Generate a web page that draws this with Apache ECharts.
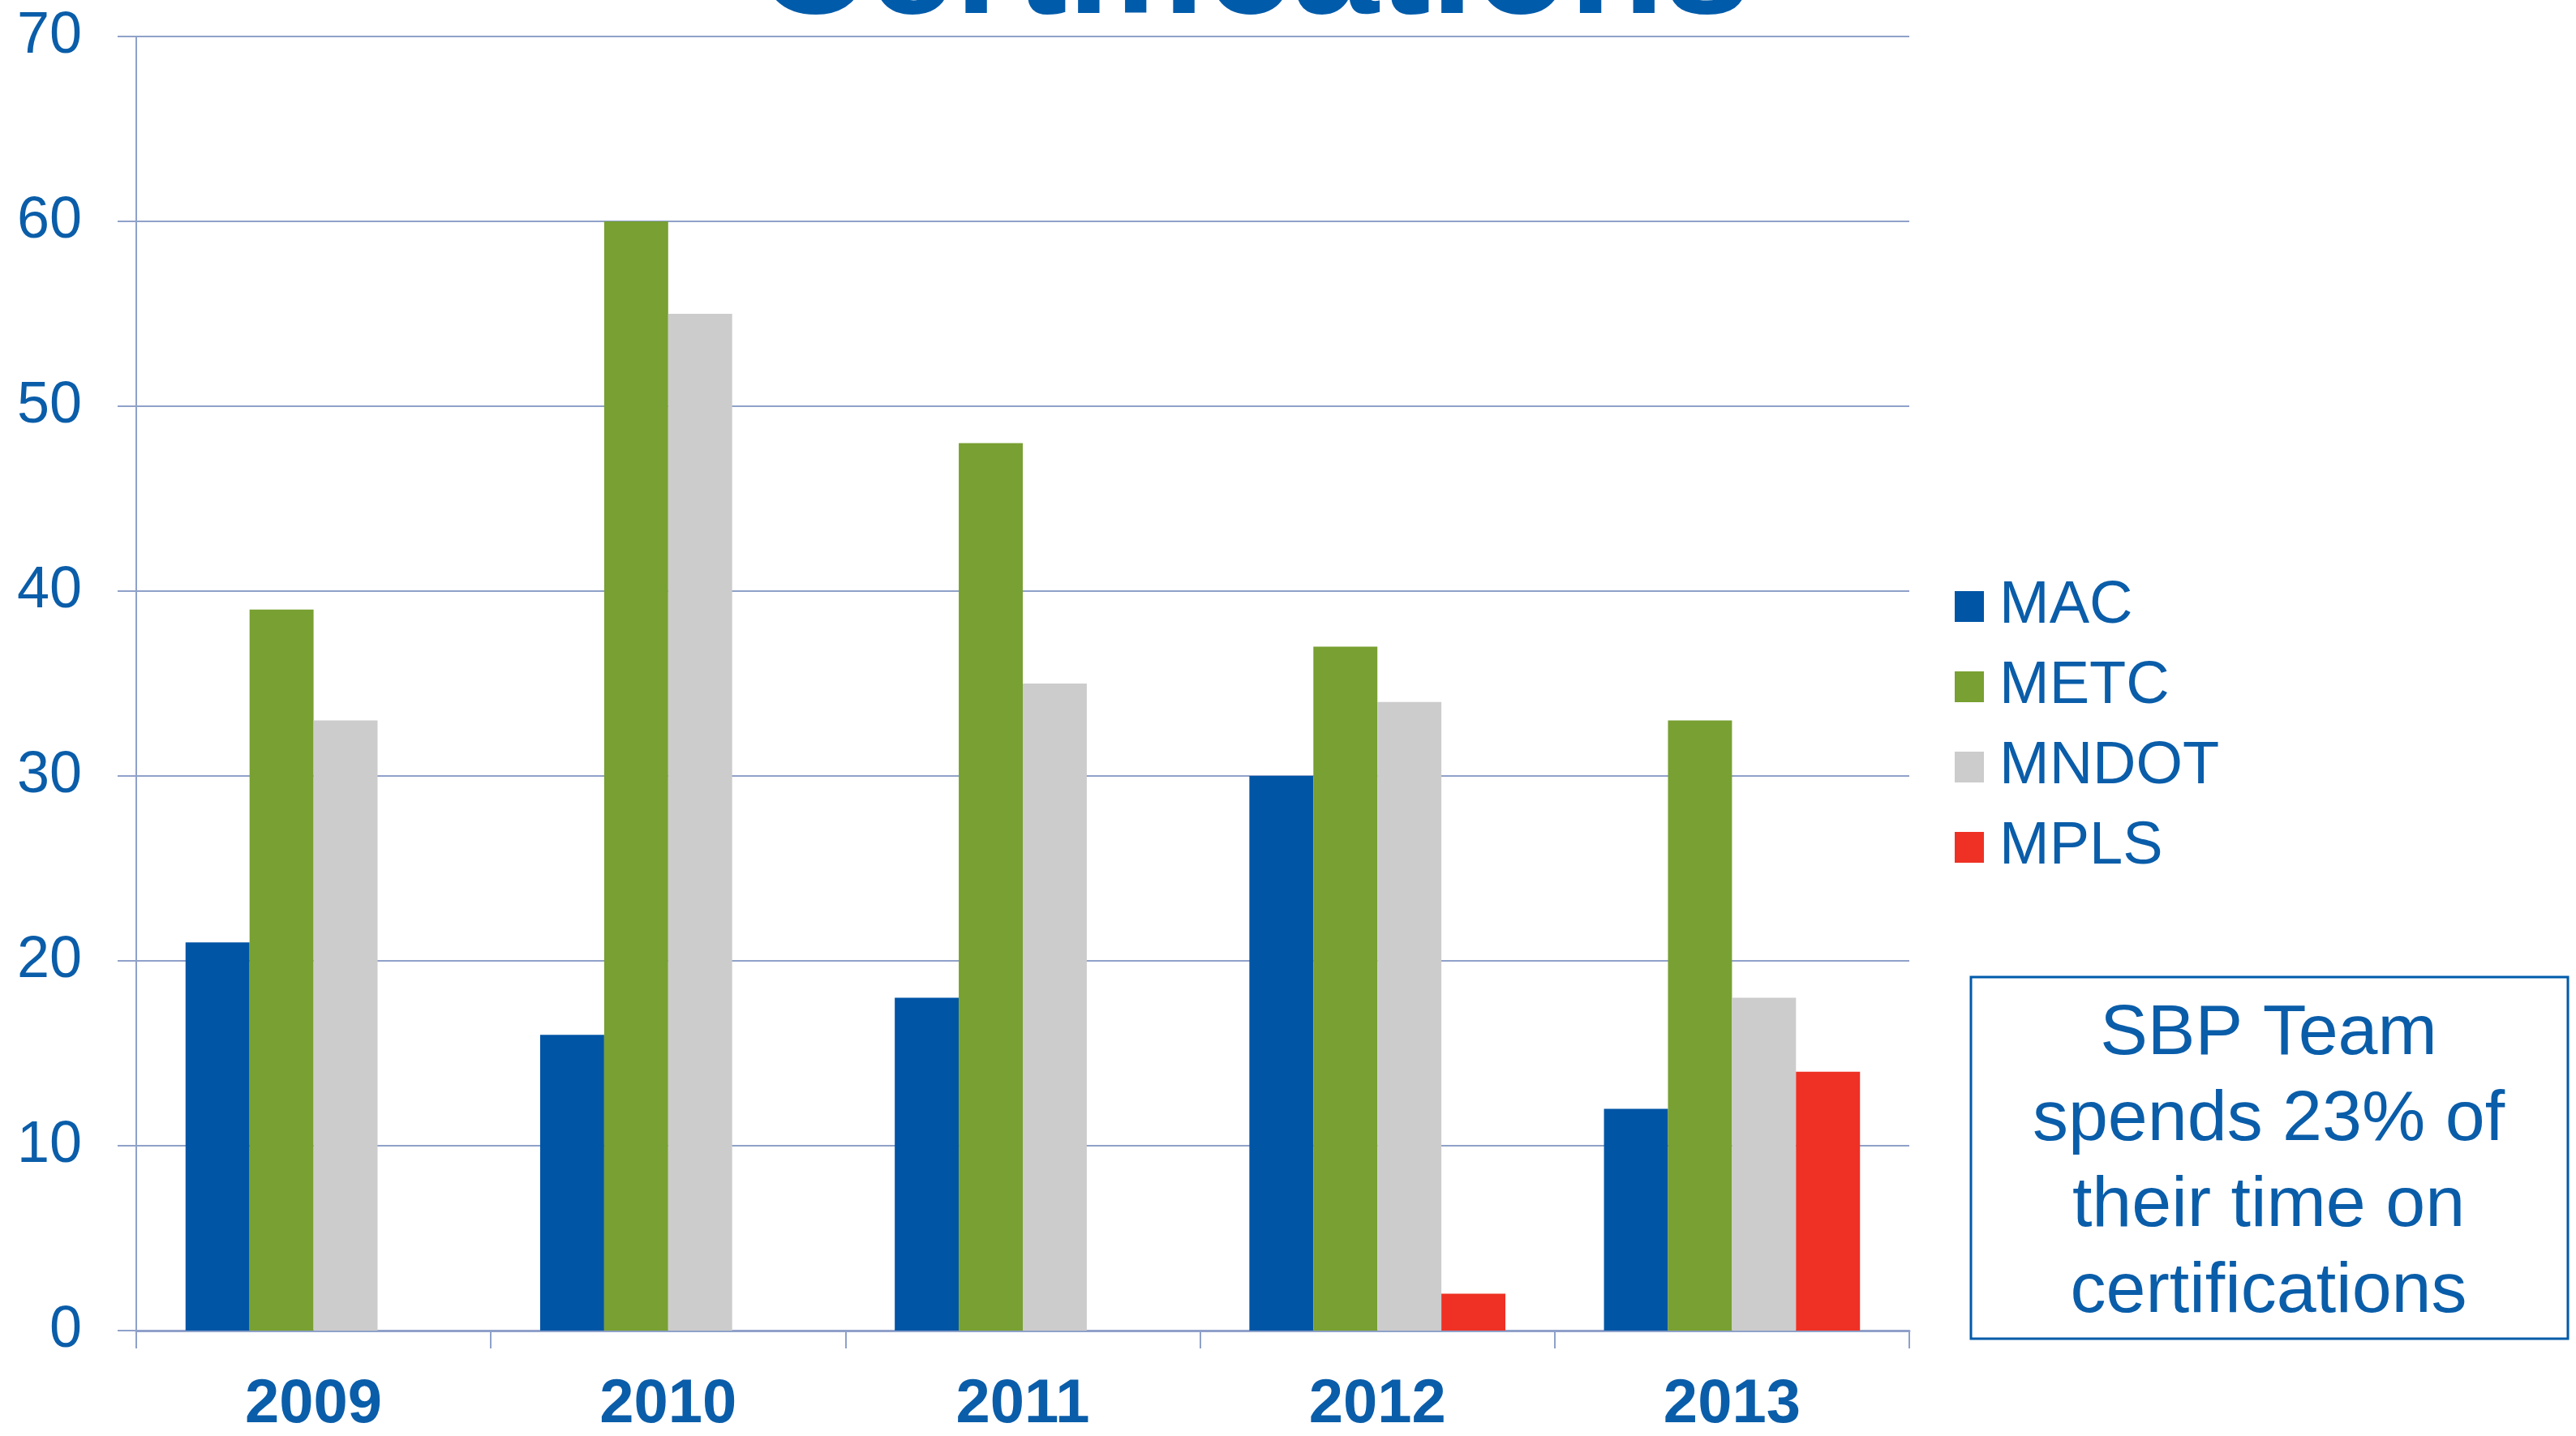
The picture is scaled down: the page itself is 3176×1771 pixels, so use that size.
<!DOCTYPE html>
<html>
<head>
<meta charset="utf-8">
<title>Certifications</title>
<script src="https://cdn.jsdelivr.net/npm/echarts@6/dist/echarts.min.js"></script>
<style>
  html, body { margin: 0; padding: 0; background: #fff; }
  #chart { width: 3176px; height: 1771px; }
</style>
</head>
<body>
<div id="chart"></div>
<script>
  // data
  const years = ['2009', '2010', '2011', '2012', '2013']
  const mac = [21, 16, 18, 30, 12]
  const metc = [39, 60, 48, 37, 33]
  const mndot = [33, 55, 35, 34, 18]
  const mpls = [0, 0, 0, 2, 14]
  const seriesNames = ['MAC', 'METC', 'MNDOT', 'MPLS']
  const seriesColors = ['#0055A5', '#78A032', '#CCCCCC', '#EE3124']
  const noteLines = ['SBP Team', 'spends 23% of', 'their time on', 'certifications']

  const blue = '#0A5DA9'
  const gridColor = '#8FA1C9'
  const font = '"Liberation Sans", Arial, sans-serif'

  const chart = echarts.init(document.getElementById('chart'))

  const makeSeries = (name, data, color) => ({
    name,
    type: 'bar',
    data,
    barGap: 0,
    barCategoryGap: '27.8%',
    itemStyle: { color },
  })

  chart.setOption({
    animation: false,
    backgroundColor: '#fff',
    textStyle: { fontFamily: font },
    title: {
      text: 'Certifications',
      left: 1540,
      textAlign: 'center',
      top: -138,
      textStyle: { fontSize: 192, fontWeight: 'bold', color: '#005BAA', fontFamily: font },
    },
    grid: { left: 168, right: 822, top: 45, bottom: 125 },
    legend: {
      orient: 'vertical',
      left: 2405,
      top: 706,
      itemWidth: 36,
      itemHeight: 38,
      itemGap: 25,
      icon: 'rect',
      selectedMode: false,
      data: seriesNames,
      textStyle: { fontSize: 74, color: blue, lineHeight: 74, padding: [0, 0, 0, 14], fontFamily: font },
    },
    xAxis: {
      type: 'category',
      data: years,
      axisLine: { lineStyle: { color: gridColor, width: 3 } },
      axisTick: { show: true, length: 22, lineStyle: { color: gridColor, width: 2 } },
      axisLabel: { fontSize: 76, fontWeight: 'bold', color: blue, margin: 54, fontFamily: font },
    },
    yAxis: {
      type: 'value',
      min: 0,
      max: 70,
      interval: 10,
      axisLine: { show: true, lineStyle: { color: gridColor, width: 2 } },
      axisTick: { show: true, length: 23, lineStyle: { color: gridColor, width: 2 } },
      splitLine: { lineStyle: { color: gridColor, width: 2 } },
      axisLabel: { fontSize: 72, color: blue, margin: 67, fontFamily: font },
    },
    graphic: [
      {
        type: 'rect',
        shape: { x: 2430, y: 1205, width: 736, height: 446 },
        style: { fill: '#fff', stroke: '#005BAA', lineWidth: 3 },
      },
      {
        type: 'text',
        x: 2797,
        y: 1435,
        style: {
          text: noteLines.join('\n'),
          font: '88px ' + font,
          fill: blue,
          align: 'center',
          verticalAlign: 'middle',
          lineHeight: 106,
        },
      },
    ],
    series: [
      makeSeries(seriesNames[0], mac, seriesColors[0]),
      makeSeries(seriesNames[1], metc, seriesColors[1]),
      makeSeries(seriesNames[2], mndot, seriesColors[2]),
      makeSeries(seriesNames[3], mpls, seriesColors[3]),
    ],
  })
</script>
</body>
</html>
